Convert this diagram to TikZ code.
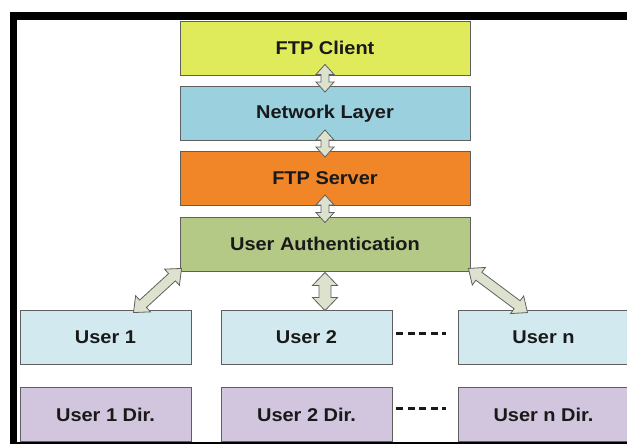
\documentclass[tikz,border=0pt]{standalone}
\usepackage{fontspec}
\setmainfont{Liberation Sans}[FakeStretch=1.08]
\usetikzlibrary{calc}

\definecolor{clientfill}{RGB}{223,235,90}
\definecolor{netfill}{RGB}{155,209,222}
\definecolor{serverfill}{RGB}{240,134,40}
\definecolor{authfill}{RGB}{181,201,135}
\definecolor{userfill}{RGB}{210,233,239}
\definecolor{dirfill}{RGB}{209,198,222}
\definecolor{arrowfill}{RGB}{221,226,207}
\definecolor{edgegray}{RGB}{95,95,95}
\definecolor{inkcol}{RGB}{25,25,25}

% double-headed block arrow: from, to, shaft half width, head half width, head length
\newcommand\blockarrow[5]{%
  \coordinate (ba-a) at ($(#1)!#5!(#2)$);
  \coordinate (ba-b) at ($(#2)!#5!(#1)$);
  \draw[arrowbody] (#1) -- ($(ba-a)!#4!90:(#2)$) -- ($(ba-a)!#3!90:(#2)$)
    -- ($(ba-b)!#3!-90:(#1)$) -- ($(ba-b)!#4!-90:(#1)$) -- (#2)
    -- ($(ba-b)!#4!90:(#1)$) -- ($(ba-b)!#3!90:(#1)$)
    -- ($(ba-a)!#3!-90:(#2)$) -- ($(ba-a)!#4!-90:(#2)$) -- cycle;
}

\tikzset{
  box/.style={draw=edgegray, line width=0.9pt, inner sep=0pt, text=inkcol,
    font=\bfseries\fontsize{18.5}{21}\selectfont},
  wide/.style={box, minimum width=290pt, minimum height=54pt},
  small/.style={box, minimum width=171pt, minimum height=54pt},
  arrowbody/.style={draw=edgegray, fill=arrowfill, line width=0.8pt, line join=miter},
  dots/.style={line width=3pt, inkcol, dash pattern=on 7pt off 4.5pt}
}

\begin{document}
\begin{tikzpicture}[x=1pt, y=-1pt]
\useasboundingbox (0,0) rectangle (627,444);

% stack of layers
\node[wide, fill=clientfill] (client) at (325,48) {FTP Client};
\node[wide, fill=netfill] (net) at (325,113.5) {Network Layer};
\node[wide, fill=serverfill] (server) at (325,178.5) {FTP Server};
\node[wide, fill=authfill] (auth) at (325,244) {User Authentication};

% users and their directories
\node[small, fill=userfill] (u1) at (105.5,337) {User 1};
\node[small, fill=userfill] (u2) at (306.5,337) {User 2};
\node[small, fill=userfill] (un) at (543.5,337) {User n};
\node[small, fill=dirfill] (d1) at (105.5,414.5) {User 1 Dir.};
\node[small, fill=dirfill] (d2) at (306.5,414.5) {User 2 Dir.};
\node[small, fill=dirfill] (dn) at (543.5,414.5) {User n Dir.};

% frame
\fill[black] (10,12) rectangle (627,20.5);
\fill[black] (10,12) rectangle (17,444);
\fill[black] (10,442) rectangle (627,444);

% ellipsis between user 2 and user n
\draw[dots, shorten <=4pt, shorten >=12pt] ([yshift=4pt]u2.east) -- ([yshift=4pt]un.west);
\draw[dots, shorten <=4pt, shorten >=12pt] ([yshift=6pt]d2.east) -- ([yshift=6pt]dn.west);

% arrow end points
\coordinate (a1) at ([yshift=11pt]client.south);
\coordinate (b1) at ([yshift=-6pt]net.north);
\coordinate (a2) at ([yshift=11pt]net.south);
\coordinate (b2) at ([yshift=-6pt]server.north);
\coordinate (a3) at ([yshift=11pt]server.south);
\coordinate (b3) at ([yshift=-6pt]auth.north);
\coordinate (a4) at ([yshift=-1pt]auth.south);
\coordinate (b4) at ([yshift=-1pt]a4 |- u2.north);
\coordinate (a5) at ([shift={(2pt,3pt)}]auth.south west);
\coordinate (b5) at ([shift={(28pt,-3pt)}]u1.north);
\coordinate (a6) at ([shift={(-2pt,3pt)}]auth.south east);
\coordinate (b6) at ([shift={(-16pt,-3pt)}]un.north);

\blockarrow{a1}{b1}{4pt}{9pt}{10pt}
\blockarrow{a2}{b2}{4pt}{9pt}{10pt}
\blockarrow{a3}{b3}{4pt}{9pt}{10pt}
\blockarrow{a4}{b4}{6pt}{12.5pt}{13pt}
\blockarrow{a5}{b5}{5pt}{11pt}{13pt}
\blockarrow{a6}{b6}{5pt}{11pt}{13pt}
\end{tikzpicture}
\end{document}
